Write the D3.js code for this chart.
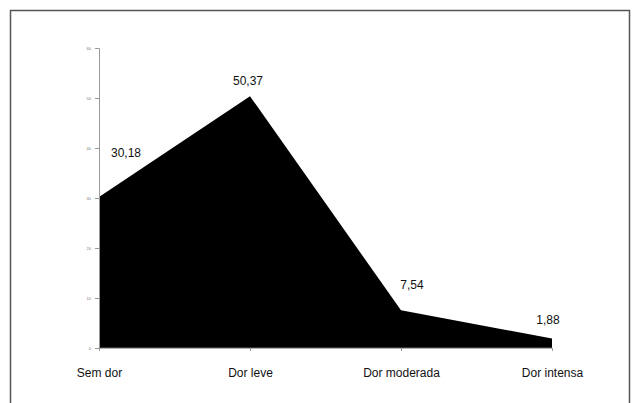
<!DOCTYPE html>
<html><head><meta charset="utf-8">
<script src="https://cdn.jsdelivr.net/npm/d3@7/dist/d3.min.js"></script>
<style>body{margin:0;background:#fff}svg{display:block}</style>
</head><body>
<svg id="c" width="634" height="403"></svg>
<script>
const categories = ["Sem dor", "Dor leve", "Dor moderada", "Dor intensa"];
const values = [30.18, 50.37, 7.54, 1.88];
const valueLabels = ["30,18", "50,37", "7,54", "1,88"];
const yTicks = [0, 10, 20, 30, 40, 50, 60];

const svg = d3.select("#c");
svg.append("rect").attr("x", 10.5).attr("y", 10.5).attr("width", 619).attr("height", 400)
  .attr("fill", "#fff").attr("stroke", "#555").attr("stroke-width", 1.5);

const x = d3.scalePoint().domain(categories).range([99, 552]);
const y = d3.scaleLinear().domain([0, 60]).range([348, 48]);

const area = d3.area().x((d, i) => x(categories[i])).y0(y(0)).y1(d => y(d));
svg.append("path").datum(values).attr("d", area).attr("fill", "#000");

const yAxis = d3.axisLeft(y).tickValues(yTicks).tickSize(4).tickPadding(4);
const gy = svg.append("g").attr("transform", "translate(99,0)").call(yAxis);
gy.select(".domain").attr("stroke", "#999");
gy.selectAll(".tick line").attr("stroke", "#999");
gy.selectAll("text").attr("font-size", 4).attr("fill", "#777").attr("font-family", "Liberation Sans, Arial");

const xAxis = d3.axisBottom(x).tickSize(3).tickPadding(17);
const gx = svg.append("g").attr("transform", "translate(0,348)").call(xAxis);
gx.select(".domain").attr("stroke", "#666").attr("d", "M99,0H552");
gx.selectAll(".tick line").attr("stroke", "#999");
gx.selectAll("text").attr("font-size", 12).attr("fill", "#111").attr("font-family", "Liberation Sans, Arial");

const lblOff = [[27, -40], [-2, -11], [11, -21], [-4, -15]];
svg.selectAll(".vl").data(values).enter().append("text")
  .attr("x", (d, i) => x(categories[i]) + lblOff[i][0])
  .attr("y", (d, i) => y(d) + lblOff[i][1])
  .attr("text-anchor", "middle")
  .attr("font-size", 12).attr("font-family", "Liberation Sans, Arial").attr("fill", "#111")
  .text((d, i) => valueLabels[i]);
</script>
</body></html>
